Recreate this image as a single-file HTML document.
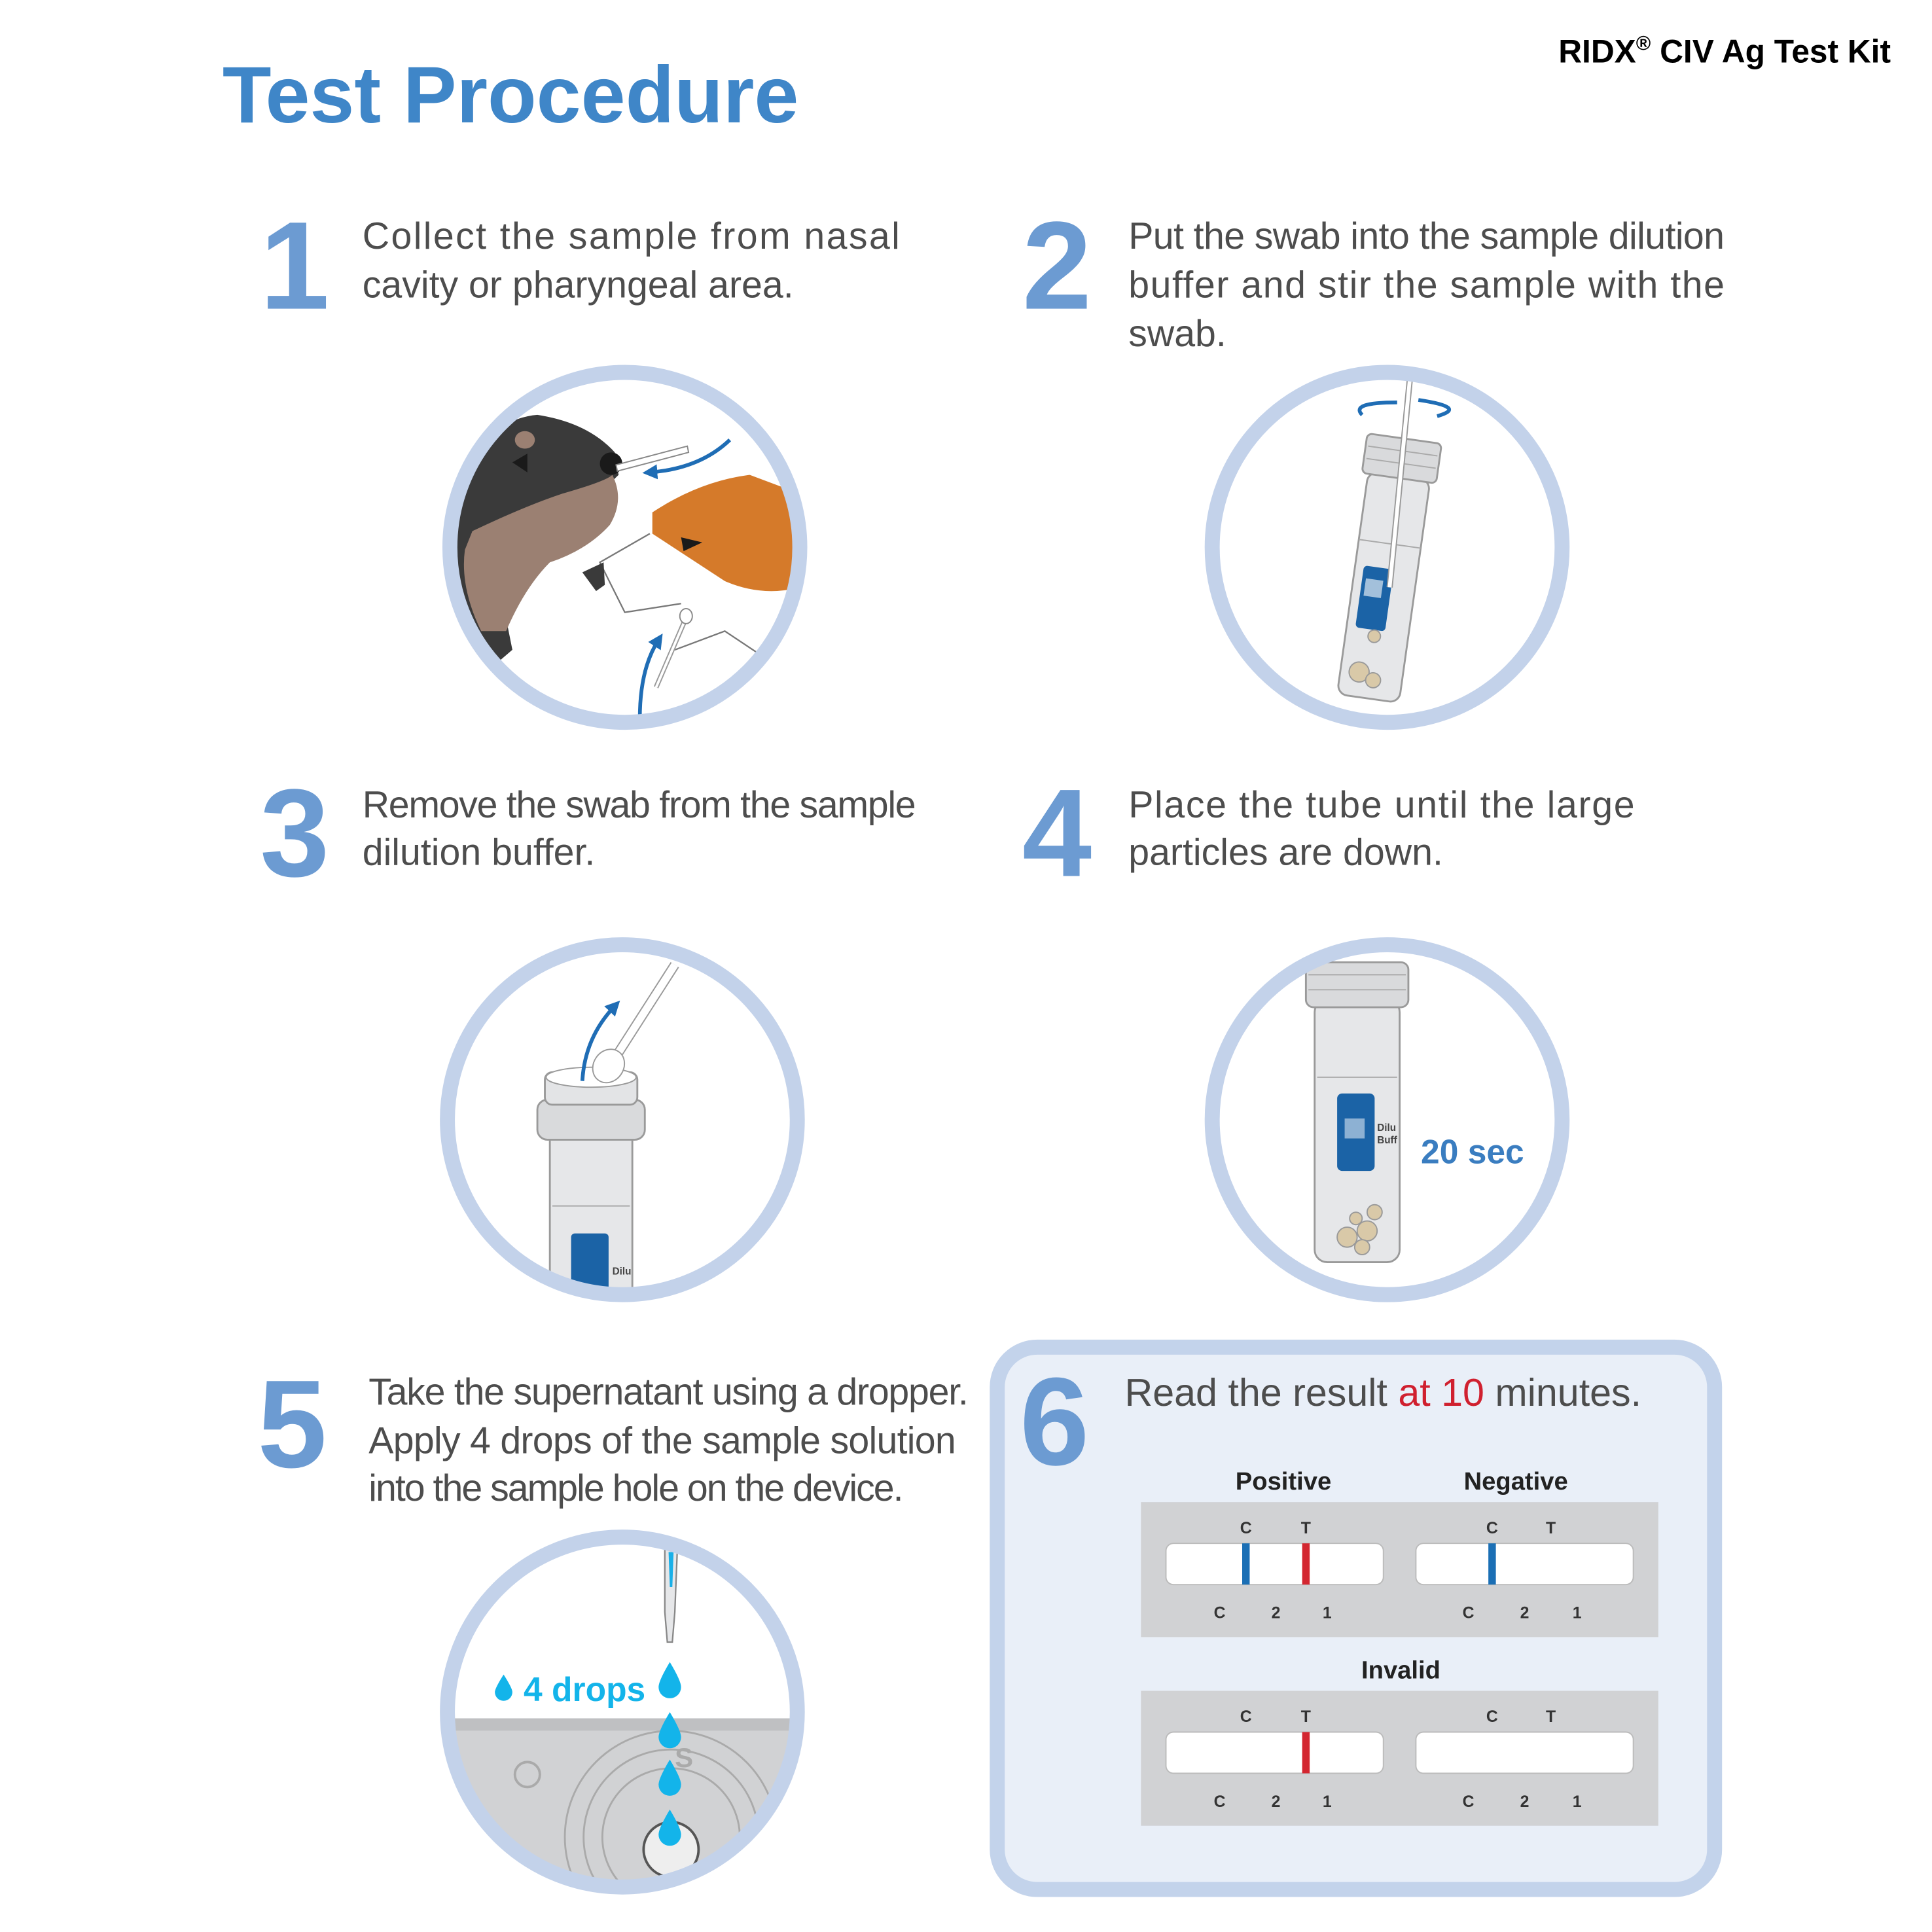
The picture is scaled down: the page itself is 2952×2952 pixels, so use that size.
<!DOCTYPE html>
<html><head><meta charset="utf-8"><style>
html,body{margin:0;padding:0;background:#fff;}
svg{display:block;}
text{font-family:"Liberation Sans",sans-serif;}
.n{font-weight:bold;fill:#6c9bd2;font-size:100px;}
.s{fill:#4d4d4d;font-size:30px;}
.ring{fill:none;stroke:#c3d2ea;stroke-width:12;}
.lab{font-size:13px;font-weight:bold;fill:#333;text-anchor:middle;}
</style></head><body>
<svg width="2952" height="2952" viewBox="0 0 1546 1546" xmlns="http://www.w3.org/2000/svg">
<defs>
<clipPath id="c1"><circle cx="500" cy="438" r="139"/></clipPath>
<clipPath id="c2"><circle cx="1110" cy="438" r="139"/></clipPath>
<clipPath id="c3"><circle cx="498" cy="896" r="139"/></clipPath>
<clipPath id="c4"><circle cx="1110" cy="896" r="139"/></clipPath>
<clipPath id="c5"><circle cx="498" cy="1370" r="139"/></clipPath>
<marker id="ar" viewBox="0 0 10 10" refX="5" refY="5" markerWidth="4" markerHeight="4" orient="auto"><path d="M0,0L10,5L0,10z" fill="#1f6db5"/></marker>
</defs>
<rect width="1546" height="1546" fill="#fff"/>
<text x="178" y="98" font-size="64" font-weight="bold" fill="#3f86c8">Test Procedure</text>
<text x="1513" y="50" font-size="26" font-weight="bold" fill="#000" text-anchor="end">RIDX<tspan font-size="16" dy="-10">®</tspan><tspan dy="10"> CIV Ag Test Kit</tspan></text>

<!-- step texts -->
<g class="s">
<text x="290" y="199" textLength="430">Collect the sample from nasal</text>
<text x="290" y="238">cavity or pharyngeal area.</text>
<text x="903" y="199" textLength="477">Put the swab into the sample dilution</text>
<text x="903" y="238" textLength="477">buffer and stir the sample with the</text>
<text x="903" y="277">swab.</text>
<text x="290" y="654" textLength="443">Remove the swab from the sample</text>
<text x="290" y="692">dilution buffer.</text>
<text x="903" y="654" textLength="405">Place the tube until the large</text>
<text x="903" y="692">particles are down.</text>
<text x="295" y="1124" textLength="480">Take the supernatant using a dropper.</text>
<text x="295" y="1163" textLength="470">Apply 4 drops of the sample solution</text>
<text x="295" y="1201" textLength="428">into the sample hole on the device.</text>
</g>

<!-- circle 1 -->
<g clip-path="url(#c1)">
<path d="M360,390 Q390,335 430,332 Q470,338 492,362 L495,380 Q470,405 440,420 Q410,440 400,470 L410,520 L340,580 Z" fill="#3a3a3a"/>
<path d="M378,425 Q420,405 450,395 Q485,385 490,380 Q500,400 488,420 Q470,440 440,450 Q420,470 405,505 L385,505 Q368,470 372,440Z" fill="#9b8072"/>
<ellipse cx="420" cy="352" rx="8" ry="7" fill="#9b8072"/>
<path d="M410,370 L422,363 L422,378Z" fill="#1a1a1a"/>
<circle cx="489" cy="371" r="9" fill="#1a1a1a"/>
<path d="M493,372 L550,357 L551,362 L494,377Z" fill="#fff" stroke="#888" stroke-width="1"/>
<path d="M584,352 Q560,375 520,378" fill="none" stroke="#1f6db5" stroke-width="3" marker-end="url(#ar)"/>
<path d="M522,410 Q560,385 600,380 L640,395 L640,470 Q610,478 580,465 L522,427Z" fill="#d57a2a"/>
<path d="M545,430 L562,434 L547,441Z" fill="#1a1a1a"/>
<path d="M520,427 L480,450 L500,490 L545,483" fill="none" stroke="#777" stroke-width="1.2"/>
<path d="M466,458 L483,450 L484,468 L477,473Z" fill="#3a3a3a"/>
<path d="M540,520 L580,505 L610,525" fill="none" stroke="#777" stroke-width="1.2"/>
<path d="M550,492 L525,550" stroke="#999" stroke-width="4"/>
<path d="M550,492 L525,550" stroke="#fff" stroke-width="2"/>
<ellipse cx="549" cy="493" rx="5" ry="6" fill="#fff" stroke="#888"/>
<path d="M512,575 Q512,535 527,512" fill="none" stroke="#1f6db5" stroke-width="3" marker-end="url(#ar)"/>
</g>
<circle class="ring" cx="500" cy="438" r="140"/>

<!-- circle 2 -->
<g clip-path="url(#c2)">
<g transform="rotate(8 1110 450)">
<rect x="1085" y="380" width="50" height="180" rx="8" fill="#e6e7e9" stroke="#9a9a9a" stroke-width="1.5"/>
<rect x="1080" y="350" width="60" height="32" rx="4" fill="#d9dadc" stroke="#9a9a9a" stroke-width="1.5"/>
<line x1="1082" y1="360" x2="1138" y2="360" stroke="#aaa"/><line x1="1082" y1="370" x2="1138" y2="370" stroke="#aaa"/>
<line x1="1085" y1="435" x2="1135" y2="435" stroke="#aaa"/>
<rect x="1092" y="455" width="24" height="50" rx="3" fill="#1b63a6"/>
<rect x="1095" y="465" width="14" height="14" fill="#fff" opacity=".6"/>
<circle cx="1100" cy="540" r="8" fill="#d9c9a8" stroke="#999"/><circle cx="1112" cy="545" r="6" fill="#d9c9a8" stroke="#999"/>
<circle cx="1108" cy="510" r="5" fill="#d9c9a8" stroke="#999"/>
</g>
<line x1="1128" y1="305" x2="1112" y2="470" stroke="#999" stroke-width="5"/>
<line x1="1128" y1="305" x2="1112" y2="470" stroke="#fff" stroke-width="3"/>
<path d="M1118,322 Q1080,322 1090,332" fill="none" stroke="#1f6db5" stroke-width="3"/>
<path d="M1135,320 Q1175,326 1150,333" fill="none" stroke="#1f6db5" stroke-width="3"/>
</g>
<circle class="ring" cx="1110" cy="438" r="140"/>

<!-- circle 3 -->
<g clip-path="url(#c3)">
<rect x="440" y="900" width="66" height="160" fill="#e6e7e9" stroke="#9a9a9a" stroke-width="1.5"/>
<rect x="430" y="880" width="86" height="32" rx="8" fill="#d9dadc" stroke="#9a9a9a" stroke-width="1.5"/>
<rect x="436" y="858" width="74" height="26" rx="6" fill="#e3e4e6" stroke="#9a9a9a" stroke-width="1.5"/>
<ellipse cx="473" cy="862" rx="36" ry="8" fill="#fff" stroke="#9a9a9a"/>
<line x1="442" y1="965" x2="504" y2="965" stroke="#aaa"/>
<rect x="457" y="987" width="30" height="60" rx="3" fill="#1b63a6"/>
<text x="490" y="1020" font-size="8" fill="#444" font-weight="bold">Dilu</text>
<line x1="540" y1="772" x2="490" y2="850" stroke="#999" stroke-width="8"/>
<line x1="540" y1="772" x2="490" y2="850" stroke="#fff" stroke-width="6"/>
<ellipse cx="487" cy="853" rx="12" ry="14" fill="#fff" stroke="#999" transform="rotate(35 487 853)"/>
<path d="M466,865 Q468,830 492,805" fill="none" stroke="#1f6db5" stroke-width="3" marker-end="url(#ar)"/>
</g>
<circle class="ring" cx="498" cy="896" r="140"/>

<!-- circle 4 -->
<g clip-path="url(#c4)">
<rect x="1052" y="800" width="68" height="210" rx="10" fill="#e6e7e9" stroke="#9a9a9a" stroke-width="1.5"/>
<rect x="1045" y="770" width="82" height="36" rx="6" fill="#d9dadc" stroke="#9a9a9a" stroke-width="1.5"/>
<line x1="1047" y1="780" x2="1125" y2="780" stroke="#aaa"/><line x1="1047" y1="792" x2="1125" y2="792" stroke="#aaa"/>
<line x1="1054" y1="862" x2="1118" y2="862" stroke="#aaa"/>
<rect x="1070" y="875" width="30" height="62" rx="4" fill="#1b63a6"/>
<rect x="1076" y="895" width="16" height="16" fill="#fff" opacity=".5"/>
<text x="1102" y="905" font-size="8" fill="#444" font-weight="bold">Dilu</text>
<text x="1102" y="915" font-size="8" fill="#444" font-weight="bold">Buff</text>
<circle cx="1078" cy="990" r="8" fill="#d9c9a8" stroke="#999"/><circle cx="1094" cy="985" r="8" fill="#d9c9a8" stroke="#999"/>
<circle cx="1100" cy="970" r="6" fill="#d9c9a8" stroke="#999"/><circle cx="1085" cy="975" r="5" fill="#d9c9a8" stroke="#999"/>
<circle cx="1090" cy="998" r="6" fill="#d9c9a8" stroke="#999"/>
</g>
<circle class="ring" cx="1110" cy="896" r="140"/>
<text x="1137" y="931" font-size="27" font-weight="bold" fill="#3a7dc0">20 sec</text>

<!-- circle 5 -->
<g clip-path="url(#c5)">
<rect x="350" y="1375" width="300" height="10" fill="#bfc0c2"/>
<rect x="350" y="1385" width="300" height="150" fill="#d1d2d4"/>
<circle cx="422" cy="1420" r="10" fill="none" stroke="#aaa" stroke-width="2"/>
<circle cx="537" cy="1470" r="85" fill="none" stroke="#aaa" stroke-width="1.5"/>
<circle cx="537" cy="1470" r="70" fill="none" stroke="#aaa" stroke-width="1.5"/>
<circle cx="537" cy="1470" r="55" fill="none" stroke="#aaa" stroke-width="1.5"/>
<circle cx="537" cy="1480" r="22" fill="#eee" stroke="#555" stroke-width="2"/>
<text x="540" y="1414" font-size="22" font-weight="bold" fill="#aaa">S</text>
<path d="M532,1240 L542,1240 L540,1290 L538,1314 L534,1314 L532,1290Z" fill="#e6e7e9" stroke="#888" stroke-width="1.2"/>
<path d="M535,1242 L539,1242 L538,1270 L536,1270Z" fill="#1ab0e8"/>
</g>
<circle class="ring" cx="498" cy="1370" r="140"/>
<g fill="#13b4ea">
<path d="M536,1330 Q545,1345 545,1350 A9,9 0 0 1 527,1350 Q527,1345 536,1330Z"/>
<path d="M536,1370 Q545,1385 545,1390 A9,9 0 0 1 527,1390 Q527,1385 536,1370Z"/>
<path d="M536,1408 Q545,1423 545,1428 A9,9 0 0 1 527,1428 Q527,1423 536,1408Z"/>
<path d="M536,1448 Q545,1463 545,1468 A9,9 0 0 1 527,1468 Q527,1463 536,1448Z"/>
<path d="M403,1340 Q410,1351 410,1354 A7,7 0 0 1 396,1354 Q396,1351 403,1340Z"/>
</g>
<text x="419" y="1361" font-size="27" font-weight="bold" fill="#13b4ea">4 drops</text>

<!-- box 6 -->
<rect x="798" y="1078" width="574" height="434" rx="32" fill="#e9eff8" stroke="#c3d3eb" stroke-width="12"/>
<text x="900" y="1125" font-size="31" fill="#4d4d4d">Read the result <tspan fill="#d0202f">at 10</tspan> minutes.</text>
<text x="1027" y="1192" font-size="20" font-weight="bold" text-anchor="middle" fill="#222">Positive</text>
<text x="1213" y="1192" font-size="20" font-weight="bold" text-anchor="middle" fill="#222">Negative</text>
<text x="1121" y="1343" font-size="20" font-weight="bold" text-anchor="middle" fill="#222">Invalid</text>

<rect x="913" y="1202" width="414" height="108" fill="#d1d2d4"/>
<rect x="913" y="1353" width="414" height="108" fill="#d1d2d4"/>
<g fill="#fff" stroke="#bbb" stroke-width="1">
<rect x="933" y="1235" width="174" height="33" rx="6"/>
<rect x="1133" y="1235" width="174" height="33" rx="6"/>
<rect x="933" y="1386" width="174" height="33" rx="6"/>
<rect x="1133" y="1386" width="174" height="33" rx="6"/>
</g>
<rect x="994" y="1235" width="6" height="33" fill="#1b6fb5"/>
<rect x="1042" y="1235" width="6" height="33" fill="#d32630"/>
<rect x="1191" y="1235" width="6" height="33" fill="#1b6fb5"/>
<rect x="1042" y="1386" width="6" height="33" fill="#d32630"/>
<g class="lab">
<text x="997" y="1227">C</text><text x="1045" y="1227">T</text>
<text x="1194" y="1227">C</text><text x="1241" y="1227">T</text>
<text x="976" y="1295">C</text><text x="1021" y="1295">2</text><text x="1062" y="1295">1</text>
<text x="1175" y="1295">C</text><text x="1220" y="1295">2</text><text x="1262" y="1295">1</text>
<text x="997" y="1378">C</text><text x="1045" y="1378">T</text>
<text x="1194" y="1378">C</text><text x="1241" y="1378">T</text>
<text x="976" y="1446">C</text><text x="1021" y="1446">2</text><text x="1062" y="1446">1</text>
<text x="1175" y="1446">C</text><text x="1220" y="1446">2</text><text x="1262" y="1446">1</text>
</g>

<!-- numbers -->
<text class="n" x="208" y="247">1</text>
<text class="n" x="818" y="247">2</text>
<text class="n" x="208" y="701">3</text>
<text class="n" x="818" y="701">4</text>
<text class="n" x="206" y="1174">5</text>
<text class="n" x="816" y="1172">6</text>
</svg>
</body></html>
